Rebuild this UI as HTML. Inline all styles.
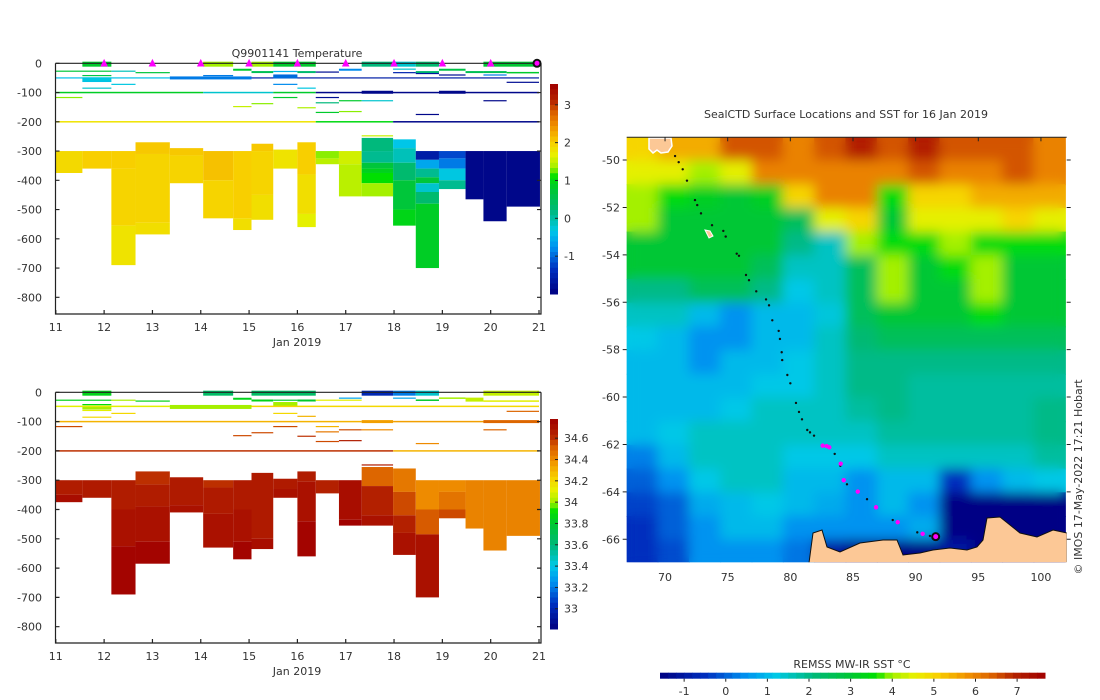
<!DOCTYPE html>
<html><head><meta charset="utf-8"><style>
html,body{margin:0;padding:0;background:#fff;}
svg{display:block;font-family:"DejaVu Sans","Liberation Sans",sans-serif;}
text{fill:#333;font-size:11px;}
</style></head><body>
<svg id="fig" width="1100" height="700" viewBox="0 0 1100 700" xmlns="http://www.w3.org/2000/svg">
<defs>
<clipPath id="mapclip"><rect x="626.7" y="137.3" width="440" height="425"/></clipPath>
<filter id="blur" x="0" y="0" width="1" height="1"><feGaussianBlur stdDeviation="6"/></filter>
</defs>
<g id="topchart"></g>
<g id="botchart"></g>
<g id="mapchart"></g>
</svg>
<script>
// ---------- data ----------
const colEdges=[11,11.55,12.15,12.65,13.36,14.05,14.67,15.05,15.5,16,16.38,16.86,17.33,17.98,18.45,18.93,19.48,19.85,20.33,21.02];
const tempBlocks=[[0,300,375,1.9],[1,300,360,2.0],[2,300,360,2.0],[2,360,555,1.95],[2,555,690,1.8],
[3,270,310,2.05],[3,310,545,1.95],[3,545,585,1.85],[4,290,315,2.05],[4,315,410,1.95],
[5,300,400,2.1],[5,400,530,1.95],[6,300,530,2.0],[6,530,570,1.85],[7,275,300,2.05],[7,300,450,1.95],[7,450,535,1.85],
[8,295,360,1.8],[9,270,380,2.0],[9,380,515,1.85],[9,515,560,1.65],[10,300,325,1.3],[10,325,345,1.45],
[11,300,345,1.55],[11,345,455,1.45],[12,255,300,0.2],[12,300,340,0.1],[12,340,360,0.7],[12,360,375,0.9],[12,375,410,1.1],[12,410,455,1.35],
[13,260,290,-0.35],[13,290,340,-0.1],[13,340,400,0.3],[13,400,500,0.7],[13,500,555,0.95],
[14,300,330,-1.6],[14,330,360,-0.6],[14,360,390,0.1],[14,390,410,0.7],[14,410,440,-0.2],[14,440,480,0.3],[14,480,700,0.85],
[15,300,325,-1.2],[15,325,360,-0.9],[15,360,400,-0.3],[15,400,430,0.1],[16,300,465,-1.9],[17,300,540,-1.9],[18,300,490,-1.9]];
const tempLines=[[11.55,12.15,3,0.8,5],[14.05,14.67,3,1.35,5],[15.05,15.5,3,1.35,5],[15.5,16.38,3,0.8,5],[17.33,17.98,3,0.2,5],[17.98,18.45,3,-0.2,5],[18.45,18.93,3,0.3,5],[19.85,21,3,0.75,5],
[11,12.15,27,0.7,1.2],[12.15,12.65,27,-0.1,1.2],[12.65,13.36,32,0.7,1.2],[14.67,15.05,22,0.8,2],[15.05,15.5,30,0.5,2],[15.5,16,28,-0.5,1.2],[16,16.38,30,0.3,2],[16.38,16.86,30,-1.8,1.2],[16.86,17.33,22,-0.8,2],[17.98,18.45,20,-0.2,1.2],[18.45,18.93,30,0.3,2],[18.93,19.48,22,0.6,2],[19.48,19.85,30,0.5,2],[19.85,20.33,30,0.5,2],[20.33,21,32,0.8,1.5],
[11.55,12.15,42,0.6,1.2],[11.55,12.15,62,-0.4,1.2],[11.55,12.15,85,-0.2,1.2],[12.15,12.65,72,-0.3,1.2],[14.05,14.67,42,-0.9,1.2],[15.5,16,72,-0.8,1.2],[16,16.38,85,-0.3,1.2],[17.98,18.45,32,-1.5,1.2],[18.45,18.93,35,-1.7,1.2],[18.93,19.48,40,-1.8,1.2],[19.85,20.33,40,-0.9,1.2],[20.33,21,65,-1.8,1.2],
[11,13.36,50,-0.4,1.2],[13.36,15.05,50,-0.9,3],[15.05,21,50,-1.6,1.2],[11.55,12.15,55,-0.3,4],[15.5,16,45,-1.0,4],
[11,14.05,100,0.85,1.5],[14.05,15.5,100,-0.2,1.5],[15.5,16.38,100,0.8,1.5],[16.38,21,100,-1.9,1.5],[17.33,17.98,99,-1.9,3],[18.93,19.48,99,-1.9,3],
[11,11.55,117,1.3,1.2],[15.5,16,117,0.8,1.2],[16.38,16.86,117,-1.8,1.2],[16.86,17.33,128,0.8,1.2],[17.33,17.98,128,-0.2,1.2],[16.38,16.86,135,0.2,1.2],[14.67,15.05,148,1.5,1.2],[15.05,15.5,138,1.3,1.2],[16,16.38,152,1.4,1.2],[16.38,16.86,168,0.8,1.2],[16.86,17.33,165,1.3,1.2],[18.45,18.93,175,-1.9,1.2],[19.85,20.33,128,-1.9,1.2],
[11,16.38,200,1.8,1.5],[16.38,17.98,200,1.0,1.5],[17.98,21,200,-1.9,1.5],[17.33,17.98,248,1.5,1.2]];
const salBlocks=[[0,300,350,34.65],[0,350,375,34.72],[1,300,360,34.66],[2,300,400,34.65],[2,400,525,34.7],[2,525,690,34.76],
[3,270,315,34.6],[3,315,390,34.65],[3,390,510,34.7],[3,510,585,34.76],[4,290,385,34.66],[4,385,410,34.7],
[5,300,325,34.6],[5,325,415,34.66],[5,415,530,34.7],[6,300,400,34.66],[6,400,510,34.7],[6,510,570,34.76],
[7,275,500,34.66],[7,500,535,34.72],[8,295,330,34.66],[8,330,360,34.7],[9,270,305,34.65],[9,305,440,34.7],[9,440,560,34.76],
[10,300,345,34.63],[11,300,435,34.72],[11,435,455,34.77],[12,255,320,34.5],[12,320,420,34.63],[12,420,455,34.7],
[13,260,340,34.45],[13,340,420,34.55],[13,420,480,34.63],[13,480,555,34.7],[14,300,400,34.4],[14,400,485,34.52],[14,485,700,34.7],
[15,300,340,34.4],[15,340,400,34.46],[15,400,430,34.55],[16,300,465,34.42],[17,300,540,34.42],[18,300,490,34.42]];
const salLines=[[11.55,12.15,3,33.85,5],[14.05,14.67,3,33.65,5],[15.05,16.38,3,33.65,5],[17.33,17.98,3,33.0,5],[17.98,18.45,3,33.2,5],[18.45,18.93,3,33.45,5],[19.85,21,3,34.05,5],
[11,12.15,27,33.85,1.2],[12.15,12.65,27,34.0,1.2],[12.65,13.36,30,33.85,1.2],[14.67,15.05,22,33.85,2],[15.05,15.5,28,33.85,2],[15.5,16,27,33.8,1.2],[16,16.38,28,33.8,2],[16.38,17.33,27,34.1,1.2],[16.86,17.33,20,33.3,1.2],[17.98,18.45,20,33.3,1.2],[18.45,18.93,27,33.8,1.5],[18.93,19.48,20,34.0,1.5],[19.48,19.85,25,34.05,4],[19.85,21,30,34.1,1.5],
[11.55,12.15,42,33.9,1.2],[11.55,12.15,52,34.0,4],[11.55,12.15,62,34.1,1.2],[11.55,12.15,85,34.2,1.2],[12.15,12.65,72,34.2,1.2],[15.5,16,40,34.0,4],[15.5,16,72,34.2,1.2],[16,16.38,82,34.3,1.2],[20.33,21,65,34.5,1.2],
[11,13.36,48,34.1,1.5],[13.36,15.05,50,34.0,4],[15.05,21,48,34.2,1.5],
[11,17.33,100,34.3,1.5],[17.33,17.98,100,34.35,3],[17.98,21,100,34.35,1.5],[19.85,21,100,34.5,3],
[11,11.55,117,34.55,1.2],[14.67,15.05,148,34.55,1.2],[15.05,15.5,138,34.55,1.2],[15.5,16,117,34.55,1.2],[16,16.38,150,34.6,1.2],[16.38,16.86,117,34.3,1.2],[16.38,16.86,135,34.45,1.2],[16.38,16.86,168,34.55,1.2],[16.86,17.33,128,34.55,1.2],[16.86,17.33,165,34.65,1.2],[17.33,17.98,128,34.4,1.2],[18.45,18.93,175,34.4,1.2],[19.85,20.33,128,34.5,1.2],
[11,17.98,200,34.6,1.5],[17.98,21,200,34.3,1.5],[17.33,17.98,248,34.65,1.2]];
const surfDays=[12,13,14,15,16,17,18,19,20];
const lastDay=21;
const dayTicks=[11,12,13,14,15,16,17,18,19,20,21];
const depthTicks=[0,-100,-200,-300,-400,-500,-600,-700,-800];
const tempCbTicks=[-1,0,1,2,3];
const salCbTicks=[33,33.2,33.4,33.6,33.8,34,34.2,34.4,34.6];
const sstLon0=66.94, sstLat0=-49.04;
const sstGrid=[
[5,5.5,5.5,6.5,6.5,6,6.5,7,6.5,7,6.5,6.5,6.5,6],
[4.5,4.5,4,4.5,6,6,6,6,6,6.5,6,6,6.5,6],
[4,3.5,3.2,3,3.2,5,6,6,3.5,5,5,5.5,5.5,5.5],
[4,3,3,3,3,2.5,4.5,5,3,4.5,4.5,4.5,5,4.5],
[3,3,3,3,3,2,1.5,4,3.5,3.5,4,3.5,3.5,3.5],
[3,3,3,3,2.5,1.5,1.5,2.5,4,3,3.5,4,3,3],
[2,2,2.5,2.5,2,1.2,1.5,2.5,4,3,3,4,3,3],
[1.5,1.5,1,0.5,1,1,1.3,2.5,3,3,3,3.5,3,3],
[1.2,1,0.5,0.5,1,1,1.5,2.2,2.5,2.5,2.5,2.5,2.5,2.5],
[1,1,0.5,1,1,1.2,1.5,2,2,2,2,2,2,2],
[1,1,1,1,1.2,1.2,1.5,2,2,1.8,1.8,1.8,1.8,1.8],
[1,1,1,1.2,1.5,1.5,1.5,1.8,2,1.8,1.8,1.8,1.8,2],
[1,1.2,1.5,1.5,1.5,1.5,1.5,1.5,1.8,1.8,1.8,1.8,1.8,2],
[0.3,1,1.5,1.5,1.5,1.2,1.2,1.2,1.5,1.5,1.5,1.5,1.5,1.8],
[0,0.5,1.2,1.5,1.5,1,1,0.5,1,1,-0.5,0.5,1,1.2],
[-0.3,0,0.8,1,1.2,1,0.8,0.5,1,0.5,-1.5,-1.5,-1.5,-1.5],
[-0.5,0,0.5,1,1,0.5,0.5,0.5,0.5,0.8,-1.5,-1.5,-1.5,-1.5],
[-0.5,-0.2,0.5,0.5,0.5,0.2,-1,-1.5,-1.5,-1.5,-1,-1.5,-1.5,-1.5]];
const trackLon=[70.8,71.09,71.41,71.75,72.39,72.57,72.87,73.75,74.65,74.84,75.72,75.9,76.46,76.7,77.28,78.06,78.3,78.56,79.07,79.17,79.31,79.35,79.76,80,80.45,80.69,80.93,81.35,81.57,81.89,83.54,83.99,84.52,86.12,88.17,90.13,91.14];
const trackLat=[-49.83,-50.09,-50.39,-50.87,-51.69,-51.9,-52.25,-52.75,-52.99,-53.23,-53.95,-54.04,-54.85,-55.07,-55.54,-55.88,-56.13,-56.76,-57.21,-57.55,-58.11,-58.44,-59.07,-59.42,-60.25,-60.63,-60.94,-61.39,-61.49,-61.63,-62.4,-62.9,-63.68,-64.31,-65.19,-65.71,-65.86];
const dayLon=[82.58,82.9,83.11,84.02,84.26,85.38,86.84,88.57,90.56];
const dayLat=[-62.05,-62.07,-62.12,-62.81,-63.51,-63.99,-64.65,-65.28,-65.77];
const curLon=91.6, curLat=-65.89;
const lonTicks=[70,75,80,85,90,95,100];
const latTicks=[-50,-52,-54,-56,-58,-60,-62,-64,-66];
const sstCbTicks=[-1,0,1,2,3,4,5,6,7];

// ---------- helpers ----------
const NS='http://www.w3.org/2000/svg';
function mk(p,tag,at,txt){const e=document.createElementNS(NS,tag);for(const k in at)e.setAttribute(k,at[k]);if(txt!==undefined)e.textContent=txt;p.appendChild(e);return e;}
const stops=[[0,[0,0,128]],[0.12,[0,48,192]],[0.22,[0,144,240]],[0.3,[0,200,232]],[0.4,[0,184,120]],[0.5,[0,200,48]],[0.56,[0,224,0]],[0.6,[160,240,0]],[0.66,[232,240,0]],[0.72,[248,208,0]],[0.8,[240,144,0]],[0.86,[220,100,0]],[0.92,[180,34,0]],[1,[160,0,0]]];
function cmap(f){f=Math.max(0,Math.min(1,f));for(let i=1;i<stops.length;i++){if(f<=stops[i][0]){const a=stops[i-1],b=stops[i],t=(f-a[0])/(b[0]-a[0]);const c=a[1].map((v,j)=>Math.round(v+(b[1][j]-v)*t));return 'rgb('+c.join(',')+')';}}return 'rgb(160,0,0)';}

function section(g,cfg){
  const xs=d=>55.8+(d-11)*48.32, ys=z=>cfg.y0+z*cfg.k;
  const col=v=>cmap((v-cfg.vmin)/(cfg.vmax-cfg.vmin));
  cfg.blocks.forEach(b=>{const r=mk(g,'rect',{x:xs(colEdges[b[0]]),y:ys(b[1]),width:xs(colEdges[b[0]+1])-xs(colEdges[b[0]]),height:ys(b[2])-ys(b[1]),fill:col(b[3])});
    
    });
  cfg.lines.forEach(l=>{const r=mk(g,'rect',{x:xs(l[0]),y:ys(l[2])-l[4]/2,width:xs(l[1])-xs(l[0]),height:l[4],fill:col(l[3])});
    
    });
  const ax=mk(g,'g',{stroke:'#222','stroke-width':1.2,fill:'none'});
  
  
  const bt=cfg.bottom;
  mk(ax,'path',{d:`M55.5 ${ys(0)}V${bt}H541V${ys(0)}`});
  mk(ax,'path',{d:`M55.5 ${ys(0)}H541`});
  dayTicks.forEach(d=>{mk(ax,'path',{d:`M${xs(d)} ${bt}v-4`});
    const t=mk(g,'text',{x:xs(d),y:bt+17,'text-anchor':'middle'},d);
    
    });
  depthTicks.forEach(z=>{const y=ys(-z);mk(ax,'path',{d:`M55.5 ${y}h4M541 ${y}h-4`});
    const t=mk(g,'text',{x:42,y:y+4,'text-anchor':'end'},z===0?'0':z);
    
    });
  const xl=mk(g,'text',{x:297,y:bt+32,'text-anchor':'middle'},'Jan 2019');
  
  
  const cb=mk(g,'g',{});
  
  
  const N=40,h=(cfg.cb1-cfg.cb0)/N;
  for(let i=0;i<N;i++){mk(cb,'rect',{x:550,y:cfg.cb0+i*h,width:8,height:h+0.5,fill:cmap(1-(i+0.5)/N)});}
  cfg.cbTicks.forEach(v=>{const y=cfg.cb1-(v-cfg.vmin)/(cfg.vmax-cfg.vmin)*(cfg.cb1-cfg.cb0);
    mk(cb,'path',{d:`M558 ${y}h-3`,stroke:'#222'});
    const t=mk(cb,'text',{x:564,y:y+4},v);
    
    });
}

const topG=document.getElementById('topchart');
section(topG,{y0:63.3,k:0.2925,bottom:314,blocks:tempBlocks,lines:tempLines,vmin:-2,vmax:3.55,cb0:84,cb1:294,cbTicks:tempCbTicks});
const tt=mk(topG,'text',{x:297,y:57,'text-anchor':'middle'},'Q9901141  Temperature');


surfDays.forEach(d=>{const c=mk(topG,'path',{d:`M${55.8+(d-11)*48.32-3} 66l3-6l3 6z`,fill:'#f0f',stroke:'#f0f'});
  
  });
const lc=mk(topG,'circle',{cx:55.8+(lastDay-11)*48.32-2,cy:63.3,r:3.5,fill:'#f0f',stroke:'#111','stroke-width':2});



const botG=document.getElementById('botchart');
section(botG,{y0:392.3,k:0.293,bottom:643,blocks:salBlocks,lines:salLines,vmin:32.81,vmax:34.78,cb0:419,cb1:629,cbTicks:salCbTicks});

// ---------- map ----------
const mapG=document.getElementById('mapchart');
const mx=l=>626.7+(l-66.94)*12.53, my=a=>137.3+(-49.04-a)*23.7;
const sc=v=>cmap((v+1.58)/9.25);
const clipG=mk(mapG,'g',{'clip-path':'url(#mapclip)'});
function drawField(parent){
  sstGrid.forEach((row,i)=>row.forEach((v,j)=>{const lo=sstLon0+j*2.5,la=sstLat0-i;
    const r=mk(parent,'rect',{x:mx(lo)-0.5,y:my(la)-0.5,width:2.5*12.53+1,height:23.7+1,fill:sc(v)});
    
    }));
}
const base=mk(clipG,'g',{});


drawField(base);
const field=mk(clipG,'g',{filter:'url(#blur)'});


drawField(field);
const land=mk(clipG,'path',{d:'M809 563L813 533L822 530L827 547L840 552L860 543L883 540L897 540L903 555L920 553L933 550L950 548L967 550L977 547L983 540L987 518L1000 517L1020 533L1037 537L1053 530L1067 533L1067 563Z',fill:'#fcc896',stroke:'#111','stroke-width':1});


const isl=mk(clipG,'path',{d:'M649 138h22l1 8l-4 6l-7 1l-4-3l-4 3l-4-4z',fill:'#fcc896',stroke:'#fff','stroke-width':1.5});


const hi=mk(clipG,'path',{d:'M705 230l5 1l3 5l-4 2z',fill:'#fcc896',stroke:'#fff','stroke-width':1});


trackLon.forEach((lo,i)=>{const c=mk(mapG,'circle',{cx:mx(lo),cy:my(trackLat[i]),r:1.2,fill:'#111'});
  
  });
dayLon.forEach((lo,i)=>{const c=mk(mapG,'circle',{cx:mx(lo),cy:my(dayLat[i]),r:2.2,fill:'#f0f'});
  
  });
const cur=mk(mapG,'circle',{cx:mx(curLon),cy:my(curLat),r:3.5,fill:'#f0f',stroke:'#111','stroke-width':2});


const frame=mk(mapG,'g',{stroke:'#222','stroke-width':1,fill:'none'});


mk(frame,'path',{d:'M626.7 137.3H1066.7'});
lonTicks.forEach(l=>{mk(frame,'path',{d:`M${mx(l)} 137.3v4`});
  const t=mk(mapG,'text',{x:mx(l),y:581,'text-anchor':'middle'},l);
  
  });
latTicks.forEach(a=>{mk(frame,'path',{d:`M626.7 ${my(a)}h-4M1066.7 ${my(a)}h4`});
  const t=mk(mapG,'text',{x:620,y:my(a)+4,'text-anchor':'end'},a);
  
  });
const mt=mk(mapG,'text',{x:846,y:118,'text-anchor':'middle'},'SealCTD Surface Locations and SST for 16 Jan 2019');


const cr=mk(mapG,'text',{x:0,y:0,transform:'translate(1082 477) rotate(-90)','text-anchor':'middle','font-size':'10'},'© IMOS 17-May-2022 17:21 Hobart');


const scb=mk(mapG,'g',{});


const NB=48,w=(1045-660)/NB;
for(let i=0;i<NB;i++)mk(scb,'rect',{x:660+i*w,y:672.7,width:w+0.5,height:6,fill:cmap((i+0.5)/NB)});
sstCbTicks.forEach(v=>{const x=660+(v+1.58)/9.25*385;
  mk(scb,'path',{d:`M${x} 678.7v3`,stroke:'#222'});
  const t=mk(scb,'text',{x:x,y:695,'text-anchor':'middle'},v);
  
  });
const sct=mk(scb,'text',{x:852,y:668,'text-anchor':'middle'},'REMSS MW-IR SST °C');


</script>
</body></html>
